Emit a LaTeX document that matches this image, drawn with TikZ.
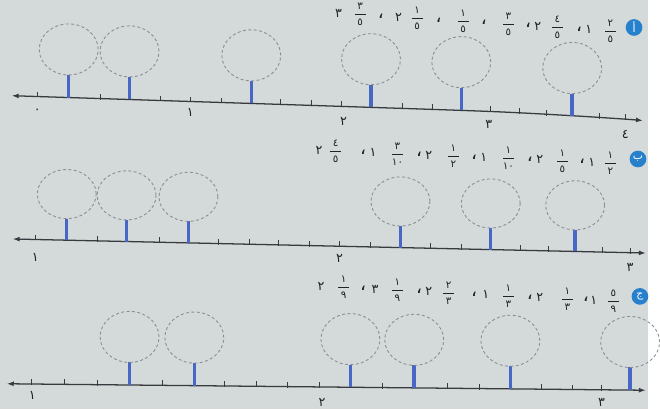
\documentclass[tikz,border=0pt]{standalone}
\usepackage{fontspec}
\newfontfamily\ar{DejaVu Sans}
\newfontfamily\arl[Script=Arabic]{DejaVu Sans}
\usetikzlibrary{arrows.meta}
\definecolor{bg}{RGB}{212,217,218}
\definecolor{axisc}{RGB}{55,58,62}
\definecolor{barc}{RGB}{72,102,196}
\definecolor{guessc}{RGB}{138,144,146}
\definecolor{badgec}{RGB}{38,128,204}
\definecolor{ink}{RGB}{34,34,36}
\newcommand{\frd}{\ar\fontsize{10.5}{10.5}\selectfont}
\newcommand{\fr}[2]{$\displaystyle{\hbox to 11pt{\hss\frd #1\hss}\above 0.9pt\hbox to 11pt{\hss\frd #2\hss}}$}
\newcommand{\cm}{{\ar\fontsize{19}{19}\selectfont ،}}
\begin{document}
\begin{tikzpicture}[x=1pt,y=-1pt,
  axisline/.style={draw=axisc, line width=1.3pt, {Latex[length=7pt,width=5pt]}-{Latex[length=7pt,width=5pt]}},
  tickmark/.style={draw=axisc, line width=0.9pt},
  barmark/.style={draw=barc, line width=3.5pt},
  guess/.style={draw=guessc, dash pattern=on 3pt off 2.5pt, line width=0.9pt},
  lbl/.style={font=\ar\fontsize{13}{13}\selectfont, text=ink, inner sep=0pt},
  itm/.style={font=\ar\fontsize{13}{13}\selectfont, text=ink, inner sep=0pt},
  badge/.style={circle, fill=badgec, text=white, minimum size=17pt, inner sep=0pt, font=\arl\fontsize{11}{11}\selectfont}
]
\fill[bg] (0,0) rectangle (660,417);

% ---------- line 1 (0 .. 4, fifths)
\draw[axisline] plot[smooth] coordinates {(12,97.5) (194,103.4) (348,108.4) (500,113.6) (583,117.9) (637,121.4) (655,122.8)};
\foreach \x in {38,102,163,194,226,286,317,348,410,441,500,529,557,611,637}{
  \pgfmathsetmacro\yy{\x<500.5 ? 97.5+0.0323*(\x-12) : 113.6+0.0565*(\x-500)}
  \draw[tickmark] (\x,\yy+1) -- (\x,\yy-5);
}
\foreach \x in {70,132,256,378,470,583}{
  \pgfmathsetmacro\yy{\x<500.5 ? 97.5+0.0323*(\x-12) : 113.6+0.0565*(\x-500)}
  \draw[barmark] (\x,\yy) -- (\x,\yy-23);
  \draw[guess] (\x,\yy-49) ellipse [x radius=30pt, y radius=26pt];
}
\node[lbl] (l10) at (38,113) {٠};
\node[lbl] (l11) at (194,115) {١};
\node[lbl] (l12) at (350,124) {٢};
\node[lbl] (l13) at (498,127) {٣};
\node[lbl] (l14) at (637,137) {٤};

% ---------- line 2 (1 .. 3, tenths)
\draw[axisline] (13,243.5) -- (658,257.8);
\foreach \x in {36,99,162,223,254,284,315,346,377,439,470,530,559,614,642}{
  \pgfmathsetmacro\yy{243.5+0.0222*(\x-13)}
  \draw[tickmark] (\x,\yy+1) -- (\x,\yy-5);
}
\foreach \x in {68,129,192,408,500,586}{
  \pgfmathsetmacro\yy{243.5+0.0222*(\x-13)}
  \draw[barmark] (\x,\yy) -- (\x,\yy-22);
  \draw[guess] (\x,\yy-47) ellipse [x radius=30pt, y radius=25pt];
}
\node[lbl] (l21) at (36,262) {١};
\node[lbl] (l22) at (346,263) {٢};
\node[lbl] (l23) at (642,272) {٣};

% ---------- line 3 (1 .. 3 1/9, ninths)
\draw[axisline] (7,391) -- (658,397.6);
\foreach \x in {32,66,99,165,229,261,293,325,390,456,488,552,583,613}{
  \pgfmathsetmacro\yy{391+0.0101*(\x-7)}
  \draw[tickmark] (\x,\yy+1) -- (\x,\yy-5);
}
\foreach \x in {132,198,357,422,520,642}{
  \pgfmathsetmacro\yy{391+0.0101*(\x-7)}
  \draw[barmark] (\x,\yy) -- (\x,\yy-23);
  \draw[guess] (\x,\yy-49) ellipse [x radius=30pt, y radius=26pt];
}
\node[lbl] (l31) at (33,403) {١};
\node[lbl] (l32) at (328,410) {٢};
\node[lbl] (l33) at (613,410) {٣};

% ---------- headers
\foreach \x/\t [count=\i] in {345/{٣},367/{\fr{٣}{٥}},388/{\cm},406/{٢},425/{\fr{١}{٥}},447/{\cm},472/{\fr{١}{٥}},493/{\cm},518/{\fr{٣}{٥}},538/{\cm},548/{٢},568/{\fr{٤}{٥}},590/{\cm},600/{١},622/{\fr{٢}{٥}}}{
  \node[itm] (h1-\i) at (\x,{15+0.065*(\x-367)}) {\t};
}
\foreach \x/\t [count=\i] in {325/{٢},342/{\fr{٤}{٥}},370/{\cm},380/{١},405/{\fr{٣}{١٠}},427/{\cm},437/{٢},462/{\fr{١}{٢}},483/{\cm},493/{١},518/{\fr{١}{١٠}},540/{\cm},550/{٢},573/{\fr{١}{٥}},593/{\cm},603/{١},622/{\fr{١}{٢}}}{
  \node[itm] (h2-\i) at (\x,{154+0.043*(\x-342)}) {\t};
}
\foreach \x/\t [count=\i] in {327/{٢},350/{\fr{١}{٩}},370/{\cm},382/{٣},405/{\fr{١}{٩}},427/{\cm},437/{٢},457/{\fr{٢}{٣}},483/{\cm},495/{١},518/{\fr{١}{٣}},540/{\cm},550/{٢},578/{\fr{١}{٣}},597/{\cm},605/{١},625/{\fr{٥}{٩}}}{
  \node[itm] (h3-\i) at (\x,{293+0.05*(\x-350)}) {\t};
}
\node[badge] (b1) at (646,28) {أ};
\node[badge] (b2) at (650,162) {ب};
\node[badge] (b3) at (652,302) {ج};
\end{tikzpicture}
\end{document}
